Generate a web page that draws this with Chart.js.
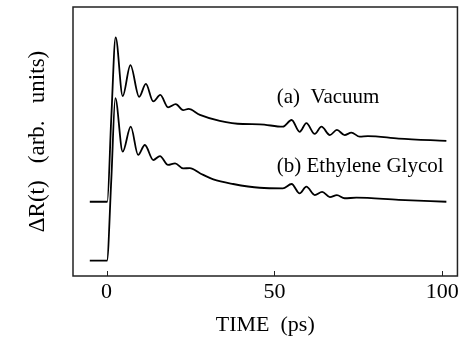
<!DOCTYPE html>
<html>
<head>
<meta charset="utf-8">
<script src="https://cdn.jsdelivr.net/npm/chart.js@4"></script>
<style>
  html, body { margin: 0; padding: 0; background: #fff; }
  #wrap { width: 462px; height: 346px; }
</style>
</head>
<body>
<div id="wrap"><canvas id="chart" width="462" height="346"></canvas></div>
<script>
// (a) Vacuum - time in ps, signal in arb. units
const timeA = [-5, 0.2, 1.4, 2.7, 4.8, 7.1, 9.7, 11.7, 13.9, 16.0, 18.3, 20.6, 22.8, 24.4, 27.8, 33.7, 40.6, 45.6,
  52.5, 55.1, 57.5, 59.5, 62.0, 64.0, 66.5, 68.6, 70.9, 72.9, 75.4, 77.8, 87.0, 101.2];
const valueA = [27.6, 27.6, 58.7, 88.7, 66.9, 78.4, 66.6, 71.4, 64.9, 67.3, 62.7, 63.9, 61.7, 62.1, 59.9, 57.7, 56.5, 56.4,
  55.5, 58.0, 53.6, 56.8, 52.8, 55.5, 52.4, 54.3, 52.4, 53.3, 51.8, 52.0, 51.1, 50.2];

// (b) Ethylene Glycol
const timeB = [-5, 0.1, 1.4, 2.6, 4.8, 7.2, 9.4, 11.4, 13.9, 15.9, 18.3, 20.4, 22.8, 24.8, 27.8, 31.8, 37.7, 45.6,
  52.5, 55.1, 57.5, 59.5, 62.0, 64.2, 66.5, 68.6, 70.9, 74.4, 87.0, 101.2];
const valueB = [5.7, 5.7, 35.7, 66.1, 46.2, 55.5, 45.0, 48.7, 43.1, 44.6, 41.3, 41.9, 40.0, 40.1, 38.2, 35.9, 34.2, 32.8,
  32.6, 34.2, 30.7, 33.2, 30.1, 31.3, 29.3, 30.1, 28.9, 29.1, 28.3, 27.6];

const xTicks = [0, 50, 100];

const labels = [
  { text: "(a)  Vacuum", t: 50.7, v: 66.5 },
  { text: "(b) Ethylene Glycol", t: 50.7, v: 40.6 },
];

const serif = "'Liberation Serif', 'DejaVu Serif', serif";

function toPoints(ts, vs) {
  return ts.map((t, i) => ({ x: t, y: vs[i] }));
}

// frame, inward ticks and curve labels
const decor = {
  id: "decor",
  afterDraw(chart) {
    const { ctx, chartArea: a, scales } = chart;
    ctx.save();
    ctx.strokeStyle = "#222";
    ctx.lineWidth = 1.5;
    ctx.strokeRect(a.left, a.top, a.right - a.left, a.bottom - a.top);
    ctx.lineWidth = 1;
    xTicks.forEach((v) => {
      const px = Math.round(scales.x.getPixelForValue(v)) + 0.5;
      ctx.beginPath();
      ctx.moveTo(px, a.bottom);
      ctx.lineTo(px, a.bottom - 5);
      ctx.stroke();
    });
    ctx.fillStyle = "#000";
    ctx.font = "21px " + serif;
    ctx.textBaseline = "middle";
    ctx.textAlign = "left";
    labels.forEach((l) => {
      ctx.fillText(l.text, scales.x.getPixelForValue(l.t), scales.y.getPixelForValue(l.v));
    });
    ctx.restore();
  },
};

const ctx = document.getElementById("chart").getContext("2d");

const chart = new Chart(ctx, {
  type: "line",
  data: {
    datasets: [
      {
        label: "(a) Vacuum",
        data: toPoints(timeA, valueA),
        borderColor: "#000",
        borderWidth: 1.8,
        pointRadius: 0,
        cubicInterpolationMode: "monotone",
      },
      {
        label: "(b) Ethylene Glycol",
        data: toPoints(timeB, valueB),
        borderColor: "#000",
        borderWidth: 1.8,
        pointRadius: 0,
        cubicInterpolationMode: "monotone",
      },
    ],
  },
  options: {
    responsive: false,
    animation: false,
    layout: { padding: { left: 0, right: 4, top: 7, bottom: 0 } },
    plugins: { legend: { display: false }, tooltip: { enabled: false } },
    scales: {
      x: {
        type: "linear",
        min: -10,
        max: 104.5,
        afterBuildTicks: (scale) => {
          scale.ticks = xTicks.map((v) => ({ value: v }));
        },
        afterFit: (scale) => {
          scale.height = 70;
        },
        grid: { display: false, drawTicks: false },
        border: { display: false },
        ticks: {
          color: "#000",
          font: { family: serif, size: 22 },
          padding: 3,
          maxRotation: 0,
        },
        title: {
          display: true,
          text: "TIME  (ps)",
          color: "#000",
          font: { family: serif, size: 22 },
          padding: { top: 0, bottom: 8 },
        },
      },
      y: {
        min: 0,
        max: 100,
        afterFit: (scale) => {
          scale.width = 73;
        },
        grid: { display: false, drawTicks: false },
        border: { display: false },
        ticks: { display: false },
        title: {
          display: true,
          text: "ΔR(t)   (arb.   units)",
          color: "#000",
          font: { family: serif, size: 23 },
          padding: { top: 24, bottom: 0 },
        },
      },
    },
  },
  plugins: [decor],
});
</script>
</body>
</html>
